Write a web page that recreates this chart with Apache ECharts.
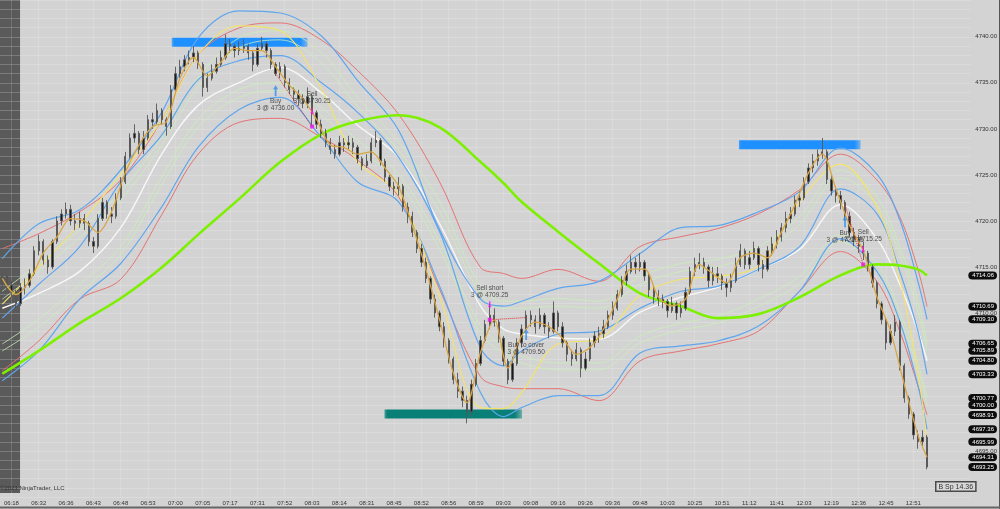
<!DOCTYPE html>
<html><head><meta charset="utf-8">
<script src="https://cdn.jsdelivr.net/npm/echarts@6/dist/echarts.min.js"></script>
<style>html,body{margin:0;padding:0;background:#d3d3d3;}#c{width:1000px;height:509px;}</style>
</head><body><div id="c"></div>
<script>
// ---------- data ----------
const timeTickBars = [2,8,14,20,26,32,38,44,50,56,62,68,74,80,86,92,98,104,110,116,122,128,134,140,146,152,158,164,170,176,182,188,194,200];
const timeLabels = ['06:18','06:32','06:36','06:43','06:48','06:53','07:00','07:05','07:17','07:31','07:52','08:03','08:14','08:31','08:45','08:52','08:56','08:59','09:03','09:08','09:16','09:26','09:36','09:48','10:03','10:25','10:51','11:12','11:41','12:03','12:19','12:36','12:45','12:51'];
const priceLabels = [4740,4735,4730,4725,4720,4715,4710,4695];
const lastValues = [4714.06,4710.69,4709.30,4706.65,4705.89,4704.80,4703.33,4700.77,4700.00,4698.91,4697.36,4695.99,4694.31,4693.25];
const preSessionEnd = 3.9;

// [open, close, low, high]
const ohlc = [
[4713.25,4714.00,4712.75,4714.75],[4714.00,4713.00,4712.50,4714.50],[4713.00,4712.25,4711.75,4713.50],[4712.25,4711.00,4710.50,4712.50],
[4711.00,4712.75,4710.75,4713.25],[4712.75,4713.00,4712.00,4713.75],[4713.00,4714.25,4712.75,4714.75],[4714.25,4716.75,4714.00,4717.25],
[4716.75,4717.75,4716.25,4718.50],[4717.75,4715.75,4715.25,4718.00],[4715.75,4715.00,4714.25,4716.25],[4715.00,4717.75,4714.75,4718.00],
[4717.75,4720.00,4717.50,4720.50],[4720.00,4720.75,4719.50,4721.25],[4720.75,4721.25,4720.25,4722.00],[4721.25,4720.00,4719.50,4721.75],
[4720.00,4719.75,4719.00,4720.75],[4719.75,4720.25,4719.25,4721.00],[4720.25,4719.75,4719.00,4720.75],[4719.75,4717.75,4717.25,4720.00],
[4717.75,4717.25,4716.50,4718.25],[4717.25,4720.25,4717.00,4720.75],[4720.25,4722.00,4720.00,4722.50],[4722.00,4720.75,4720.25,4722.25],
[4720.75,4720.50,4719.75,4721.50],[4720.50,4722.50,4720.25,4723.00],[4722.50,4724.25,4722.25,4724.75],[4724.25,4727.00,4724.00,4727.50],
[4727.00,4729.00,4726.75,4729.50],[4729.00,4729.50,4728.50,4730.50],[4729.50,4727.75,4727.25,4729.75],[4727.75,4729.00,4727.25,4729.75],
[4729.00,4731.00,4728.75,4731.50],[4731.00,4730.75,4730.00,4731.75],[4730.75,4732.00,4730.50,4732.75],[4732.00,4731.00,4730.50,4732.25],
[4731.00,4730.25,4729.25,4731.25],[4730.25,4734.25,4730.00,4734.75],[4734.25,4736.00,4734.00,4736.75],[4736.00,4736.75,4735.50,4737.50],
[4736.75,4737.50,4736.25,4738.00],[4737.50,4737.75,4737.00,4738.50],[4737.75,4738.25,4737.25,4739.00],[4738.25,4737.00,4736.50,4738.50],
[4737.00,4734.50,4733.50,4737.25],[4734.50,4735.50,4734.00,4736.00],[4735.50,4736.25,4735.25,4737.00],[4736.25,4737.00,4736.00,4737.75],
[4737.00,4737.75,4736.75,4738.50],[4737.75,4739.25,4737.50,4740.25],[4739.25,4739.00,4738.25,4739.75],[4739.00,4738.50,4737.75,4739.25],
[4738.50,4738.75,4738.00,4739.50],[4738.75,4739.00,4738.25,4739.75],[4739.00,4738.25,4737.50,4739.25],[4738.25,4737.00,4736.25,4738.50],
[4737.00,4738.75,4736.75,4739.25],[4738.75,4739.25,4738.50,4740.00],[4739.25,4738.50,4737.75,4739.50],[4738.50,4737.00,4736.50,4738.75],
[4737.00,4736.00,4735.75,4737.25],[4736.00,4736.75,4735.50,4737.25],[4736.75,4735.00,4734.50,4737.00],[4735.00,4734.25,4733.75,4735.50],
[4734.25,4733.75,4733.00,4734.50],[4733.75,4733.25,4732.50,4734.25],[4733.25,4732.75,4732.25,4733.75],[4732.75,4733.50,4732.25,4734.50],
[4733.50,4731.75,4730.25,4733.75],[4731.75,4730.50,4730.00,4732.00],[4730.50,4729.50,4729.00,4731.00],[4729.50,4728.50,4728.00,4730.00],
[4728.50,4727.75,4727.25,4729.00],[4727.75,4727.25,4726.75,4728.25],[4727.25,4728.50,4727.00,4729.25],[4728.50,4728.25,4727.50,4729.00],
[4728.25,4728.50,4727.75,4729.25],[4728.50,4728.00,4727.25,4729.00],[4728.00,4726.75,4726.25,4728.25],[4726.75,4726.00,4725.50,4727.00],
[4726.00,4726.50,4725.75,4727.25],[4726.50,4728.50,4726.25,4729.00],[4728.50,4728.75,4728.00,4729.75],[4728.75,4726.50,4726.00,4729.00],
[4726.50,4724.75,4724.25,4726.75],[4724.75,4723.75,4723.25,4725.00],[4723.75,4723.50,4722.75,4724.25],[4723.50,4723.75,4722.75,4724.75],
[4723.75,4721.50,4721.00,4724.00],[4721.50,4720.50,4719.75,4722.00],[4720.50,4718.75,4718.25,4721.00],[4718.75,4717.00,4716.50,4719.00],
[4717.00,4715.50,4715.00,4717.50],[4715.50,4713.75,4713.25,4716.00],[4713.75,4711.50,4711.00,4714.00],[4711.50,4710.00,4709.50,4712.00],
[4710.00,4708.50,4708.00,4710.25],[4708.50,4707.00,4706.25,4709.00],[4707.00,4705.00,4704.50,4707.25],[4705.00,4702.75,4702.25,4705.25],
[4702.75,4701.50,4700.75,4703.50],[4701.50,4700.50,4699.75,4702.00],[4700.50,4699.25,4698.00,4701.00],[4699.25,4702.25,4698.75,4702.75],
[4702.25,4704.50,4702.00,4705.00],[4704.50,4707.00,4704.25,4707.50],[4707.00,4708.75,4706.75,4709.25],[4708.75,4709.75,4708.25,4711.00],
[4709.75,4709.00,4708.50,4710.50],[4709.00,4707.25,4706.75,4709.25],[4707.25,4704.75,4704.25,4707.50],[4704.75,4702.75,4702.25,4705.00],
[4702.75,4704.50,4702.50,4705.25],[4704.50,4706.75,4704.25,4707.25],[4706.75,4708.25,4706.25,4708.75],[4708.25,4709.75,4708.00,4710.25],
[4709.75,4709.25,4708.50,4710.25],[4709.25,4708.50,4707.75,4709.75],[4708.50,4709.75,4708.25,4710.50],[4709.75,4708.50,4707.75,4710.00],
[4708.50,4708.00,4707.25,4709.00],[4708.00,4710.00,4707.75,4711.25],[4710.00,4708.50,4708.00,4710.25],[4708.50,4706.75,4706.25,4709.00],
[4706.75,4705.50,4704.75,4707.00],[4705.50,4705.00,4704.25,4706.00],[4705.00,4706.00,4704.75,4706.75],[4706.00,4704.00,4703.00,4706.25],
[4704.00,4705.00,4703.75,4705.75],[4705.00,4706.75,4704.75,4707.25],[4706.75,4707.50,4706.25,4708.00],[4707.50,4707.75,4706.75,4708.50],
[4707.75,4708.50,4707.25,4709.25],[4708.50,4709.75,4708.25,4710.25],[4709.75,4710.50,4709.25,4711.25],[4710.50,4712.00,4710.25,4712.50],
[4712.00,4713.50,4711.75,4714.00],[4713.50,4714.50,4713.00,4715.25],[4714.50,4715.50,4714.25,4716.25],[4715.50,4715.00,4714.25,4716.00],
[4715.00,4715.50,4714.50,4716.50],[4715.50,4714.00,4713.50,4715.75],[4714.00,4712.50,4711.75,4714.25],[4712.50,4711.75,4711.00,4713.00],
[4711.75,4711.50,4710.75,4712.50],[4711.50,4711.25,4710.50,4712.00],[4711.25,4710.25,4709.50,4711.50],[4710.25,4711.00,4710.00,4711.75],
[4711.00,4710.00,4709.25,4711.25],[4710.00,4710.50,4709.50,4711.25],[4710.50,4712.25,4710.25,4712.75],[4712.25,4714.50,4712.00,4715.00],
[4714.50,4715.25,4714.00,4716.00],[4715.25,4715.50,4714.75,4716.50],[4715.50,4715.00,4714.25,4716.00],[4715.00,4713.50,4712.75,4715.25],
[4713.50,4714.25,4713.00,4715.00],[4714.25,4714.00,4713.25,4715.00],[4714.00,4713.25,4712.50,4714.25],[4713.25,4712.75,4711.75,4713.75],
[4712.75,4713.50,4712.25,4714.25],[4713.50,4715.25,4713.25,4716.00],[4715.25,4716.75,4715.00,4717.50],[4716.75,4715.25,4714.75,4717.00],
[4715.25,4716.00,4714.75,4716.75],[4716.00,4717.00,4715.75,4717.75],[4717.00,4715.25,4714.50,4717.25],[4715.25,4714.75,4713.75,4715.75],
[4714.75,4716.75,4714.50,4717.25],[4716.75,4717.50,4716.25,4718.25],[4717.50,4718.25,4717.00,4719.00],[4718.25,4719.25,4717.75,4719.75],
[4719.25,4720.25,4718.75,4721.00],[4720.25,4720.75,4719.75,4721.50],[4720.75,4722.25,4720.50,4722.75],[4722.25,4722.50,4721.50,4723.25],
[4722.50,4724.25,4722.25,4724.75],[4724.25,4725.75,4724.00,4726.25],[4725.75,4726.50,4725.25,4727.25],[4726.50,4727.25,4726.00,4727.75],
[4727.25,4727.50,4726.75,4729.00],[4727.50,4724.50,4724.00,4727.75],[4724.50,4723.25,4722.75,4725.00],[4723.25,4722.75,4722.00,4723.75],
[4722.75,4722.00,4721.25,4723.25],[4722.00,4720.50,4720.00,4722.25],[4720.50,4718.75,4718.25,4721.00],[4718.75,4718.00,4717.25,4719.25],
[4718.00,4717.25,4716.50,4718.50],[4717.25,4716.50,4715.75,4717.75],[4716.50,4715.00,4714.50,4716.75],[4715.00,4713.25,4712.75,4715.25],
[4713.25,4711.00,4710.50,4713.50],[4711.00,4709.25,4708.75,4711.25],[4709.25,4706.75,4706.00,4709.50],[4706.75,4708.00,4706.50,4708.75],
[4708.00,4709.00,4707.50,4709.75],[4709.00,4704.25,4703.75,4709.25],[4704.25,4700.75,4700.25,4704.50],[4700.75,4699.00,4698.50,4701.00],
[4699.00,4696.75,4696.25,4699.25],[4696.75,4696.00,4695.25,4697.25],[4696.00,4696.50,4695.50,4697.25],[4696.50,4693.25,4693.00,4696.75]
];

// indicator lines, sampled at these bars
const lineBars  = [0,8,17,26,35,43,52,61,70,78,87,96,105,110,114,122,131,140,149,157,166,175,184,192,197,201,203];
const greenMA   = [4703.39,4705.87,4708.89,4711.59,4714.94,4718.51,4722.39,4726.39,4729.41,4730.82,4731.47,4730.17,4726.39,4724.12,4722.07,4718.83,4715.37,4712.13,4710.73,4709.43,4709.87,4711.70,4714.08,4715.27,4715.16,4714.73,4714.06];
const whiteMA   = [4710.51,4712.13,4714.51,4719.26,4727.25,4732.55,4735.03,4736.65,4733.95,4730.39,4726.93,4719.69,4710.73,4708.25,4707.71,4707.27,4707.17,4710.08,4711.70,4712.78,4714.73,4716.89,4721.75,4718.07,4713.11,4708.03,4704.80];
const yellowMA  = [4710.95,4714.94,4719.69,4725.09,4730.93,4738.05,4741.19,4740.65,4734.38,4726.39,4722.93,4711.81,4699.71,4699.60,4701.33,4706.63,4707.17,4711.92,4713.65,4713.97,4715.16,4722.07,4726.17,4721.53,4713.65,4703.49,4695.99];
const redUpper  = [4716.99,4718.61,4720.99,4724.45,4730.93,4738.05,4740.97,4741.51,4739.67,4736.33,4731.57,4724.23,4714.94,4714.29,4713.75,4714.73,4713.43,4717.21,4718.29,4719.15,4720.77,4723.37,4727.25,4724.45,4720.45,4714.73,4710.69];
const blueUpper = [4715.91,4719.69,4721.21,4725.53,4731.79,4739.89,4742.81,4742.59,4740.11,4735.25,4729.85,4719.05,4711.49,4710.73,4711.27,4712.67,4713.43,4716.45,4719.26,4719.48,4720.99,4723.15,4727.90,4725.09,4720.13,4713.43,4709.30];
const blueMid   = [4709.43,4713.11,4717.21,4724.23,4729.31,4735.35,4737.41,4737.95,4735.03,4731.79,4726.93,4718.83,4706.19,4704.25,4705.87,4707.71,4708.03,4710.51,4712.35,4712.89,4714.73,4717.21,4723.47,4720.77,4714.51,4708.03,4703.33];
const blueLower = [4702.63,4705.87,4711.49,4715.37,4721.53,4728.01,4732.11,4733.41,4729.09,4724.23,4722.07,4712.89,4701.33,4698.74,4699.71,4701.01,4701.01,4705.65,4706.41,4706.95,4708.57,4712.35,4718.07,4714.51,4709.11,4702.09,4697.36];
const redLower  = [4703.71,4706.95,4711.49,4713.65,4720.67,4727.25,4730.71,4731.14,4729.09,4726.61,4722.61,4712.57,4703.06,4701.98,4701.77,4701.77,4700.47,4704.79,4705.87,4706.63,4708.03,4712.35,4716.67,4713.43,4708.03,4702.09,4698.91];
const lgUpper1  = [4712.35,4715.37,4719.05,4723.15,4729.09,4735.57,4739.89,4740.65,4738.27,4733.41,4728.55,4722.07,4712.89,4711.27,4711.27,4711.59,4711.27,4713.97,4715.37,4715.81,4717.21,4720.45,4725.53,4722.61,4717.21,4711.27,4706.65];
const lgUpper2  = [4711.49,4714.51,4718.18,4722.29,4728.23,4734.60,4738.81,4739.67,4737.19,4732.44,4727.69,4720.99,4712.03,4710.51,4710.51,4710.73,4710.51,4713.11,4714.51,4715.05,4716.45,4719.59,4724.66,4721.75,4716.35,4710.19,4705.89];
const lgLower1  = [4706.63,4709.33,4713.11,4717.21,4724.77,4731.03,4734.27,4735.03,4732.33,4728.77,4725.09,4717.75,4708.57,4706.41,4705.33,4704.57,4704.57,4707.49,4708.89,4709.65,4711.49,4713.97,4718.51,4715.37,4710.19,4704.57,4700.77];
const lgLower2  = [4705.87,4708.46,4712.24,4716.35,4723.91,4730.17,4733.41,4734.17,4731.47,4727.90,4724.23,4716.89,4707.71,4705.65,4704.57,4703.82,4703.82,4706.73,4708.14,4708.89,4710.73,4713.21,4717.75,4714.62,4709.43,4703.82,4700.00];

const tanBars = [0,3,6,9,12,15,18,21,24,27,30,33,36,39,42,45,48,51,54,57,60,63,66,69,72,75,78,81,84,87,90,93,96,99,102,105,108,111,114,117,120,123,126,129,132,135,138,141,144,147,150,153,156,159,162,165,168,171,174,177,180,183,186,189,192,195,198,201,203];
const tanMA = [4713.75,4712.00,4713.50,4716.50,4718.25,4720.25,4720.00,4718.75,4721.00,4725.25,4728.25,4730.25,4730.75,4735.50,4737.75,4735.75,4737.25,4738.75,4738.50,4738.50,4736.75,4734.75,4733.25,4731.00,4728.25,4728.00,4727.25,4727.50,4725.75,4723.75,4719.50,4714.75,4709.25,4703.50,4700.25,4705.75,4709.25,4704.00,4707.50,4709.00,4708.50,4707.25,4705.50,4706.25,4708.25,4711.50,4714.75,4714.75,4711.75,4710.75,4711.50,4715.25,4714.25,4713.25,4716.00,4716.50,4716.00,4718.75,4721.75,4725.25,4727.25,4723.50,4719.50,4716.75,4711.75,4708.00,4702.25,4696.75,4694.31];

const tradeBars   = [60,68,107,115,185,189];
const tradePrices = [4736.00,4730.25,4709.25,4709.50,4721.75,4715.25];
const tradeSides  = ['Buy','Sell','Sell short','Buy to cover','Buy','Sell'];
const tradeQty    = [3,3,3,3,3,3];

const zoneFrom  = [37.2,161.7,83.9];
const zoneTo    = [67.0,188.4,114.1];
const zonePrice = [4739.40,4728.28,4699.01];
const zoneColor = ['30,144,255','30,144,255','8,128,120'];

// ---------- chart ----------
const chart = echarts.init(document.getElementById('c'), null, {renderer:'canvas'});
const FONT = 'Liberation Sans';
const pts = (xs, ys) => xs.map((x, i) => [x, ys[i]]);

const bandDefs = [
  {d: lgUpper1, c: '#c9efb8', w: 0.8}, {d: lgUpper2, c: '#c9efb8', w: 0.8},
  {d: lgLower1, c: '#c9efb8', w: 0.8}, {d: lgLower2, c: '#c9efb8', w: 0.8},
  {d: whiteMA, c: '#f7f7f7', w: 1.4},
  {d: redUpper, c: '#e57373', w: 1}, {d: redLower, c: '#e57373', w: 1},
  {d: blueUpper, c: '#5fa6ee', w: 1.2}, {d: blueMid, c: '#5fa6ee', w: 1.2}, {d: blueLower, c: '#5fa6ee', w: 1.2},
  {d: yellowMA, c: '#f4e36a', w: 1.1},
  {d: greenMA, c: '#7cf000', w: 2.6}
];

const series = [];
// candles (with pre-session shading)
series.push({
  type: 'candlestick', z: 2,
  data: ohlc.map((d, i) => [i, d[0], d[1], d[2], d[3]]),
  barWidth: 1.8,
  itemStyle: {color: '#1a1a1a', color0: '#1a1a1a', borderColor: '#575757', borderColor0: '#575757', borderWidth: 0.9},
  markArea: {silent: true, z: 0.5, itemStyle: {color: '#5a5a5a'},
    data: [[{xAxis: -0.5, yAxis: 4690.43}, {xAxis: preSessionEnd, yAxis: 4744}]]}
});
// zones
zoneFrom.forEach((f, k) => {
  const c = zoneColor[k];
  series.push({
    type: 'line', z: 1.6, symbol: 'none', silent: true,
    data: [[f, zonePrice[k]], [zoneTo[k], zonePrice[k]]],
    lineStyle: {width: 9, cap: 'butt',
      color: new echarts.graphic.LinearGradient(0, 0, 1, 0, [
        {offset: 0, color: `rgba(${c},0.15)`}, {offset: 0.05, color: `rgba(${c},1)`},
        {offset: 0.92, color: `rgba(${c},1)`}, {offset: 1, color: `rgba(${c},0.15)`}])}
  });
});
// indicator lines
bandDefs.forEach(b => series.push({
  type: 'line', z: 1.8, symbol: 'none', smooth: 0.35, silent: true,
  data: pts(lineBars, b.d), lineStyle: {color: b.c, width: b.w}
}));
// tan fast MA
series.push({type: 'line', z: 3, symbol: 'none', smooth: 0.3, silent: true,
  data: pts(tanBars, tanMA), lineStyle: {color: '#d9a543', width: 1.3}});
// trade connectors
for (let k = 0; k < tradeBars.length; k += 2) {
  series.push({type: 'line', z: 3.5, symbol: 'none', silent: true,
    data: [[tradeBars[k], tradePrices[k]], [tradeBars[k + 1], tradePrices[k + 1]]],
    lineStyle: {color: '#e0302e', width: 1, type: 'dotted'}});
}
const isBuy = s => s.indexOf('Buy') === 0;
const tradeLabel = k => tradeSides[k] + '\n' + tradeQty[k] + ' @ ' + tradePrices[k].toFixed(2);
const buyIdx = tradeBars.map((b, k) => k).filter(k => isBuy(tradeSides[k]));
const sellIdx = tradeBars.map((b, k) => k).filter(k => !isBuy(tradeSides[k]));
const lblStyle = {show: true, fontSize: 6.5, lineHeight: 7, color: '#2a2a2a', fontFamily: FONT, align: 'center'};
series.push({type: 'scatter', z: 5, silent: true,
  symbol: 'path://M2.5,0 L5,4 L3.4,4 L3.4,11 L1.6,11 L1.6,4 L0,4 Z', symbolSize: [5, 11], symbolOffset: [0, 17],
  itemStyle: {color: '#2f8ff0'},
  label: Object.assign({position: 'bottom', distance: 2, formatter: p => tradeLabel(p.data[2])}, lblStyle),
  data: buyIdx.map(k => [tradeBars[k], tradePrices[k], k])});
series.push({type: 'scatter', z: 5, silent: true,
  symbol: 'path://M1.6,0 L3.4,0 L3.4,5 L5,5 L2.5,8 L0,5 L1.6,5 Z', symbolSize: [4, 7], symbolOffset: [0, -15],
  itemStyle: {color: '#f010f0'},
  label: Object.assign({position: 'top', distance: 3, formatter: p => tradeLabel(p.data[2])}, lblStyle),
  data: sellIdx.map(k => [tradeBars[k], tradePrices[k], k])});
series.push({type: 'scatter', z: 5, silent: true, symbol: 'rect', symbolSize: 4,
  itemStyle: {color: '#f010f0'}, data: sellIdx.map(k => [tradeBars[k], tradePrices[k]])});

chart.setOption({
  animation: false,
  backgroundColor: '#d3d3d3',
  textStyle: {fontFamily: FONT},
  grid: {left: 0, top: -3, width: 972, height: 500, containLabel: false},
  xAxis: {
    type: 'value', min: -0.5, max: 212.5, z: 1,
    axisLine: {show: false},
    axisTick: {show: false, customValues: timeTickBars},
    axisLabel: {customValues: timeTickBars, fontSize: 6, color: '#333', margin: 3,
      formatter: v => timeLabels[timeTickBars.indexOf(Math.round(v))] || ''},
    splitLine: {show: true, lineStyle: {color: 'rgba(255,255,255,0.15)', width: 1}}
  },
  yAxis: [{
    type: 'value', position: 'right', min: 4690, max: 4744, interval: 1, z: 1,
    axisLine: {show: false}, axisTick: {show: false},
    splitLine: {show: true, lineStyle: {color: 'rgba(255,255,255,0.2)', width: 1}},
    axisLabel: {fontSize: 6, color: '#333', margin: 5,
      formatter: v => priceLabels.indexOf(Math.round(v)) >= 0 && Math.abs(v - Math.round(v)) < 1e-6 ? v.toFixed(2) : ''}
  }, {
    type: 'value', position: 'right', min: 4690, max: 4744, z: 6,
    axisLine: {show: false}, axisTick: {show: false}, splitLine: {show: false},
    axisLabel: {customValues: lastValues, fontSize: 6, color: '#fff', backgroundColor: '#0d0d0d',
      borderRadius: 4, padding: [1, 3, 1, 4], margin: -2, formatter: v => v.toFixed(2)}
  }],
  series: series,
  graphic: [
    {type: 'text', left: 0, top: 485, z: 10, style: {text: '\u00a92021 NinjaTrader, LLC', fill: '#333', font: '6px "Liberation Sans"'}},
    {type: 'text', left: 935, top: 481, z: 10, style: {text: 'B Sp 14.36', fill: '#333', font: '7px "Liberation Sans"',
      backgroundColor: '#d8d8d8', borderColor: '#4a4a4a', borderWidth: 1.5, padding: [1, 2, 0, 2]}},
    {type: 'line', z: 10, shape: {x1: 999.5, y1: 0, x2: 999.5, y2: 509}, style: {stroke: '#555', lineWidth: 1}},
    {type: 'line', z: 10, shape: {x1: 0, y1: 507.5, x2: 1000, y2: 507.5}, style: {stroke: '#666', lineWidth: 2}}
  ]
});
</script>
</body></html>
